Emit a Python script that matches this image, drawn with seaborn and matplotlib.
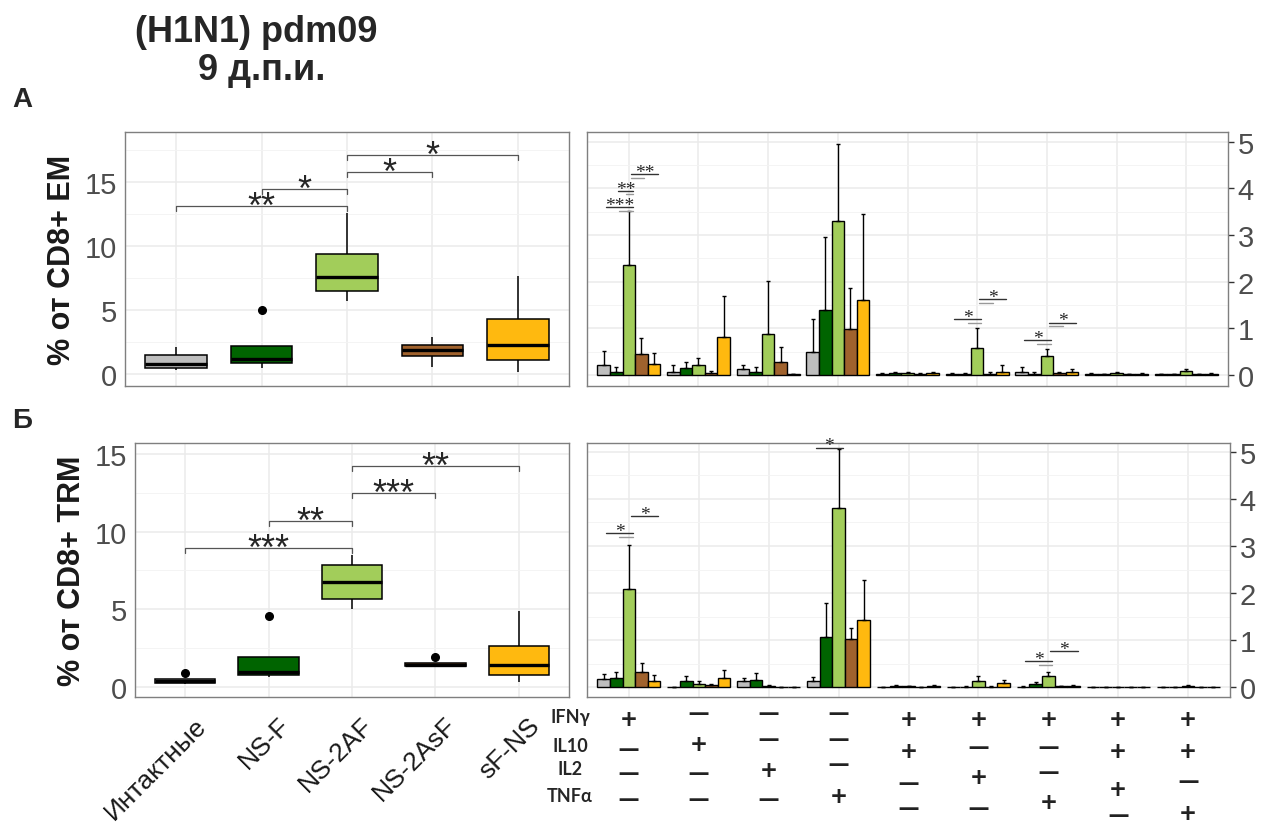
import numpy as np
import pandas as pd
import matplotlib
matplotlib.use("Agg")
import matplotlib.pyplot as plt
import matplotlib.transforms as mtransforms
from matplotlib.ticker import MultipleLocator
import seaborn as sns

# ------------------------------------------
# Data
# ------------------------------------------
groups = ["Интактные", "NS-F", "NS-2AF", "NS-2AsF", "sF-NS"]
colors = ["#BEBEBE", "#006400", "#A2CD5A", "#A0622D", "#FFB90F"]

# % of CD8+ EM, per animal
em_intact = [0.3, 0.47, 0.78, 1.5, 2.1]
em_nsf = [0.45, 0.86, 1.17, 2.2, 5.0]
em_ns2af = [5.7, 6.5, 7.55, 9.35, 12.6]
em_ns2asf = [0.56, 1.43, 1.9, 2.3, 2.9]
em_sfns = [0.17, 1.1, 2.3, 4.3, 7.65]

# % of CD8+ TRM, per animal
trm_intact = [0.2, 0.26, 0.36, 0.5, 0.93]
trm_nsf = [0.64, 0.77, 0.98, 1.93, 4.6]
trm_ns2af = [5.0, 5.67, 6.76, 7.86, 8.5]
trm_ns2asf = [1.3, 1.38, 1.45, 1.55, 1.92]
trm_sfns = [0.3, 0.77, 1.44, 2.64, 4.9]

# significance brackets: (group a, group b, height, label)
em_sig = [(0, 2, 13.1, "**"), (1, 2, 14.45, "*"), (2, 3, 15.8, "*"), (2, 4, 17.1, "*")]
trm_sig = [(0, 2, 8.95, "***"), (1, 2, 10.7, "**"), (2, 3, 12.5, "***"), (2, 4, 14.2, "**")]

# cytokine combinations (columns of the bar panels)
combos = ["IFNγ", "IL10", "IL2", "TNFα", "IFNγ IL10", "IFNγ IL2",
          "IFNγ TNFα", "IFNγ IL10 IL2", "IFNγ IL10 TNFα"]

# EM: mean and SD per group
em_mean_intact = [0.21, 0.07, 0.12, 0.49, 0.02, 0.01, 0.07, 0.02, 0.01]
em_mean_nsf = [0.05, 0.14, 0.07, 1.38, 0.03, 0.01, 0.02, 0.01, 0.01]
em_mean_ns2af = [2.36, 0.21, 0.88, 3.29, 0.03, 0.58, 0.40, 0.03, 0.09]
em_mean_ns2asf = [0.45, 0.03, 0.27, 0.98, 0.02, 0.01, 0.04, 0.01, 0.01]
em_mean_sfns = [0.24, 0.82, 0.01, 1.61, 0.03, 0.07, 0.07, 0.02, 0.02]

em_sd_intact = [0.30, 0.14, 0.09, 0.70, 0.02, 0.02, 0.09, 0.01, 0.01]
em_sd_nsf = [0.12, 0.14, 0.10, 1.58, 0.03, 0.02, 0.03, 0.01, 0.01]
em_sd_ns2af = [1.15, 0.16, 1.13, 1.67, 0.04, 0.43, 0.16, 0.04, 0.03]
em_sd_ns2asf = [0.35, 0.06, 0.33, 0.89, 0.02, 0.04, 0.03, 0.01, 0.0]
em_sd_sfns = [0.22, 0.87, 0.01, 1.83, 0.04, 0.14, 0.05, 0.01, 0.02]

# TRM: mean and SD per group
trm_mean_intact = [0.17, 0.01, 0.13, 0.12, 0.01, 0.01, 0.01, 0.005, 0.005]
trm_mean_nsf = [0.19, 0.14, 0.16, 1.07, 0.03, 0.01, 0.06, 0.005, 0.005]
trm_mean_ns2af = [2.08, 0.06, 0.03, 3.81, 0.02, 0.12, 0.24, 0.005, 0.02]
trm_mean_ns2asf = [0.32, 0.04, 0.005, 1.02, 0.01, 0.01, 0.02, 0.005, 0.01]
trm_mean_sfns = [0.14, 0.19, 0.005, 1.42, 0.02, 0.08, 0.02, 0.005, 0.005]

trm_sd_intact = [0.10, 0.0, 0.06, 0.09, 0.0, 0.0, 0.01, 0.0, 0.0]
trm_sd_nsf = [0.13, 0.10, 0.14, 0.71, 0.02, 0.01, 0.04, 0.0, 0.0]
trm_sd_ns2af = [0.94, 0.06, 0.01, 1.25, 0.01, 0.12, 0.09, 0.0, 0.02]
trm_sd_ns2asf = [0.19, 0.03, 0.0, 0.23, 0.0, 0.01, 0.01, 0.0, 0.0]
trm_sd_sfns = [0.12, 0.18, 0.0, 0.85, 0.02, 0.08, 0.03, 0.0, 0.0]

# significance lines on bar panels: (combo, bar a, bar b, height, label, gray underline)
em_bar_sig = [(0, 0, 2, 3.60, "***", True), (0, 1, 2, 3.95, "**", True), (0, 2, 4, 4.30, "**", True),
              (5, 0, 2, 1.20, "*", True), (5, 2, 4, 1.63, "*", True),
              (6, 0, 2, 0.75, "*", True), (6, 2, 4, 1.12, "*", True)]
trm_bar_sig = [(0, 0, 2, 3.27, "*", True), (0, 2, 4, 3.63, "*", False),
               (3, 0, 2, 5.09, "*", False),
               (6, 0, 2, 0.56, "*", True), (6, 2, 4, 0.76, "*", False)]

# +/- table under the bars
cyto_names = ["IFNγ", "IL10", "IL2", "TNFα"]
ifng_signs = ["+", "—", "—", "—", "+", "+", "+", "+", "+"]
il10_signs = ["—", "+", "—", "—", "+", "—", "—", "+", "+"]
il2_signs = ["—", "—", "+", "—", "—", "+", "—", "+", "—"]
tnfa_signs = ["—", "—", "—", "+", "—", "—", "+", "—", "+"]

# ------------------------------------------
# Layout
# ------------------------------------------
W, H = 1263, 829
sns.set_style("white")
plt.rcParams['font.family'] = ['Liberation Sans', 'DejaVu Sans']

fig = plt.figure(figsize=(W / 100, H / 100), dpi=100)


def px_rect(l, t, r, b):
    return [l / W, 1 - b / H, (r - l) / W, (b - t) / H]


ax_tl = fig.add_axes(px_rect(125, 133, 569, 387))
ax_tr = fig.add_axes(px_rect(587, 133, 1228, 387))
ax_bl = fig.add_axes(px_rect(135, 444, 569, 698))
ax_br = fig.add_axes(px_rect(587, 444, 1230, 698))


def box_df(vals):
    rows = []
    for g, v in zip(groups, vals):
        for x in v:
            rows.append((g, x))
    return pd.DataFrame(rows, columns=["group", "value"])


def bar_df(means):
    rows = []
    for g, m in zip(groups, means):
        for c, v in zip(combos, m):
            rows.append((c, g, v))
    return pd.DataFrame(rows, columns=["combo", "group", "mean"])


def style_axes(ax):
    for s in ax.spines.values():
        s.set_color("#7F7F7F")
        s.set_linewidth(1.0)
    ax.set_axisbelow(True)
    ax.grid(True, which="major", color="#EBEBEB", linewidth=1.1)
    ax.grid(True, which="minor", axis="y", color="#F3F3F3", linewidth=0.6)
    ax.tick_params(which="major", length=4, width=1, color="#333333",
                   labelcolor="#4D4D4D", labelsize=21)
    ax.tick_params(which="minor", length=0)
    ax.set_xlabel("")


def draw_box(ax, vals, ylim, sig, ylabel):
    df = box_df(vals)
    sns.boxplot(data=df, x="group", y="value", hue="group", order=groups, hue_order=groups,
                palette=colors, saturation=1, dodge=False, width=0.72, linecolor="black",
                linewidth=1.1, showcaps=False, legend=False, fliersize=5.5,
                flierprops=dict(marker="o", markerfacecolor="black", markeredgecolor="black"),
                medianprops=dict(linewidth=2.4), ax=ax)
    ax.set_xlim(-0.6, 4.6)
    ax.set_ylim(*ylim)
    ax.yaxis.set_major_locator(MultipleLocator(5))
    ax.yaxis.set_minor_locator(MultipleLocator(2.5))
    style_axes(ax)
    ax.tick_params(axis="y", pad=2)
    ax.set_ylabel(ylabel, fontsize=22, fontweight="bold", color="#1a1a1a", labelpad=5)
    tip = 0.02 * (ylim[1] - ylim[0])
    for a, b, y, lab in sig:
        ax.plot([a, a, b, b], [y - tip, y, y, y - tip], color="#555555", lw=0.9)
        ax.annotate(lab, ((a + b) / 2, y), xytext=(0, -8), textcoords="offset points",
                    ha="center", va="baseline", fontsize=26)


def draw_bars(ax, means, sds, sig):
    df = bar_df(means)
    sns.barplot(data=df, x="combo", y="mean", hue="group", order=combos, hue_order=groups,
                palette=colors, width=0.9, errorbar=None, edgecolor="black", linewidth=1.0,
                saturation=1, legend=False, ax=ax)
    for cont, sd in zip(ax.containers, sds):
        xs = [b.get_x() + b.get_width() / 2 for b in cont]
        ys = [b.get_height() for b in cont]
        ax.errorbar(xs, ys, yerr=[np.zeros(len(sd)), sd], fmt="none", ecolor="black",
                    elinewidth=1.0, capsize=1.5, capthick=1.0)
    ax.set_xlim(-0.6, 8.6)
    ax.yaxis.set_major_locator(MultipleLocator(1))
    ax.yaxis.set_minor_locator(MultipleLocator(0.5))
    style_axes(ax)
    ax.set_ylabel("")
    ax.yaxis.tick_right()
    ax.tick_params(axis="y", left=False, right=True, labelleft=False, labelright=True, pad=3)
    ax.tick_params(axis="x", labelbottom=False)

    def bx(h, c):
        bar = ax.containers[h][c]
        return bar.get_x() + bar.get_width() / 2

    for c, a, b, y, lab, under in sig:
        x0, x1 = bx(a, c) + 0.03, bx(b, c) + 0.06
        ax.plot([x0, x1], [y, y], color="#333333", lw=1.0)
        if under:
            xm = (x0 + x1) / 2
            if b == 2:
                ax.plot([xm, x1], [y - 0.08, y - 0.08], color="#999999", lw=1.0)
            else:
                ax.plot([x0, xm], [y - 0.08, y - 0.08], color="#999999", lw=1.0)
        ax.annotate(lab, ((x0 + x1) / 2, y), xytext=(0, -2), textcoords="offset points",
                    ha="center", va="baseline", fontsize=14, family=["Liberation Serif"])


draw_box(ax_tl, [em_intact, em_nsf, em_ns2af, em_ns2asf, em_sfns], (-0.94, 18.9), em_sig,
         "% от CD8+ EM")
ax_tl.tick_params(axis="x", labelbottom=False)

draw_box(ax_bl, [trm_intact, trm_nsf, trm_ns2af, trm_ns2asf, trm_sfns], (-0.64, 15.7), trm_sig,
         "% от CD8+ TRM")
ax_bl.set_xticks(range(len(groups)))
ax_bl.set_xticklabels(groups, rotation=45, ha="right", va="top", rotation_mode="anchor",
                      fontsize=19, color="#1a1a1a")
shift = mtransforms.ScaledTranslation(9 / 100, -5 / 100, fig.dpi_scale_trans)
for lab in ax_bl.get_xticklabels():
    lab.set_transform(lab.get_transform() + shift)

draw_bars(ax_tr, [em_mean_intact, em_mean_nsf, em_mean_ns2af, em_mean_ns2asf, em_mean_sfns],
          [em_sd_intact, em_sd_nsf, em_sd_ns2af, em_sd_ns2asf, em_sd_sfns], em_bar_sig)
ax_tr.set_ylim(-0.24, 5.21)

draw_bars(ax_br, [trm_mean_intact, trm_mean_nsf, trm_mean_ns2af, trm_mean_ns2asf, trm_mean_sfns],
          [trm_sd_intact, trm_sd_nsf, trm_sd_ns2af, trm_sd_ns2asf, trm_sd_sfns], trm_bar_sig)
ax_br.set_ylim(-0.21, 5.19)

# ------------------------------------------
# Titles, panel letters, cytokine table
# ------------------------------------------
fig.text(256 / W, 1 - 32 / H, "(H1N1) pdm09", ha="center", va="center",
         fontsize=26, fontweight="bold")
fig.text(262 / W, 1 - 71 / H, "9 д.п.и.", ha="center", va="center",
         fontsize=26, fontweight="bold")
fig.text(12 / W, 1 - 100 / H, "А", ha="left", va="center", fontsize=20, fontweight="bold")
fig.text(12 / W, 1 - 421 / H, "Б", ha="left", va="center", fontsize=20, fontweight="bold")

label_y = [718, 747, 770, 797]
sign_y = [
    [720, 714, 714, 714, 720, 720, 720, 720, 720],
    [750, 745, 740, 740, 752, 748, 748, 752, 752],
    [774, 774, 771, 765, 784, 778, 773, 790, 782],
    [800, 800, 800, 797, 809, 809, 803, 816, 814],
]
trans = mtransforms.blended_transform_factory(ax_br.transData, fig.transFigure)
for name, ly, signs, sy in zip(cyto_names, label_y,
                               [ifng_signs, il10_signs, il2_signs, tnfa_signs], sign_y):
    fig.text(570 / W, 1 - ly / H, name, ha="center", va="center", fontsize=13,
             fontweight="bold", family=["Lato", "DejaVu Sans"])
    for i, s in enumerate(signs):
        ax_br.text(i, 1 - sy[i] / H, s, transform=trans, ha="center", va="center",
                   fontsize=20, fontweight="bold", color="#222222",
                   family=["Lato", "DejaVu Sans"], clip_on=False)

fig.savefig("out.png", dpi=100)
